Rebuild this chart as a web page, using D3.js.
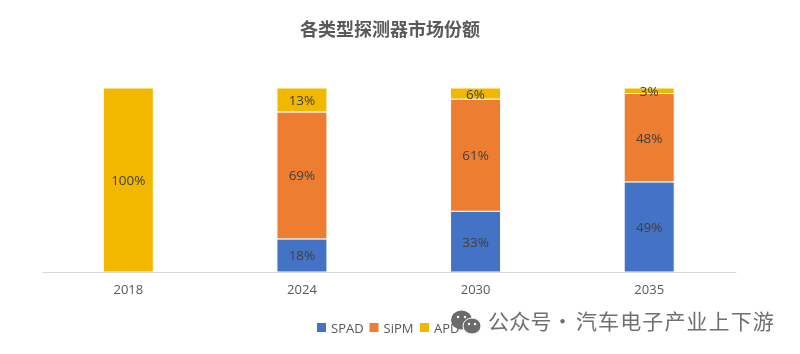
<!DOCTYPE html>
<html lang="zh">

<head>
    <meta charset="UTF-8">
    <style>
        html, body { margin: 0; padding: 0; background: #fff; }
        svg { display: block; filter: blur(0.4px); }
        .tick text { font-family: "Open Sans", "Noto Sans", sans-serif; font-size: 13px; fill: #595959; }
    </style>
    <title>各类型探测器市场份额</title>
    <script src="https://d3js.org/d3.v7.min.js"></script>
</head>

<body>
    <div id="chart"></div>
    <script>
        // values, in percent
        const years = ['2018', '2024', '2030', '2035'];
        const spad = [0, 18, 33, 49];
        const sipm = [0, 69, 61, 48];
        const apd = [100, 13, 6, 3];
        const seriesNames = ['SPAD', 'SiPM', 'APD'];
        const seriesColors = ['#4472C4', '#ED7D31', '#F2B800'];

        const width = 800;
        const height = 354;
        const margin = { top: 88, right: 64, bottom: 82, left: 41.5 };

        const svg = d3.select('#chart')
            .append('svg')
            .attr('width', width)
            .attr('height', height);

        const table = years.map((y, i) => ({ year: y, SPAD: spad[i], SiPM: sipm[i], APD: apd[i] }));
        const stacked = d3.stack().keys(seriesNames)(table);

        const xScale = d3.scaleBand()
            .domain(years)
            .range([margin.left, width - margin.right])
            .paddingInner(0.712)
            .paddingOuter(0.356);

        const yScale = d3.scaleLinear()
            .domain([0, 100])
            .range([height - margin.bottom, margin.top]);

        // title
        svg.append('text')
            .attr('x', 390)
            .attr('y', 36)
            .attr('text-anchor', 'middle')
            .style('font-family', '"Noto Sans CJK SC", serif')
            .style('font-size', '18px')
            .style('font-weight', 700)
            .style('fill', '#595959')
            .text('各类型探测器市场份额');

        // bars
        const groups = svg.selectAll('g.series')
            .data(stacked)
            .enter()
            .append('g')
            .attr('class', 'series')
            .style('fill', (d, i) => seriesColors[i]);

        groups.selectAll('rect')
            .data(d => d.filter(p => p[1] > p[0]))
            .enter()
            .append('rect')
            .attr('x', d => xScale(d.data.year))
            .attr('y', d => yScale(d[1]))
            .attr('width', xScale.bandwidth())
            .attr('height', d => yScale(d[0]) - yScale(d[1]))
            .style('stroke', '#fff')
            .style('stroke-width', 1);

        // value labels
        groups.selectAll('text')
            .data(d => d.filter(p => p[1] > p[0]))
            .enter()
            .append('text')
            .attr('x', d => xScale(d.data.year) + xScale.bandwidth() / 2)
            .attr('y', d => yScale((d[0] + d[1]) / 2) + 5)
            .attr('text-anchor', 'middle')
            .style('font-family', '"Open Sans", "Noto Sans", sans-serif')
            .style('font-size', '13.5px')
            .style('fill', '#404040')
            .text(d => (d[1] - d[0]) + '%');

        // x axis
        const xAxis = d3.axisBottom(xScale).tickSize(0).tickPadding(13);
        const axisG = svg.append('g')
            .attr('transform', `translate(0, ${height - margin.bottom})`)
            .call(xAxis);
        axisG.select('.domain')
            .style('stroke', '#d9d9d9')
            .style('stroke-width', 1);

        // legend
        const legendX = [317, 369.5, 420];
        const legend = svg.selectAll('g.legend')
            .data(seriesNames)
            .enter()
            .append('g')
            .attr('class', 'legend')
            .attr('transform', (d, i) => `translate(${legendX[i]}, 323)`);
        legend.append('rect')
            .attr('width', 9)
            .attr('height', 9)
            .style('fill', (d, i) => seriesColors[i]);
        legend.append('text')
            .attr('x', 14)
            .attr('y', 10)
            .style('font-family', '"Open Sans", "Noto Sans", sans-serif')
            .style('font-size', '13px')
            .style('fill', '#595959')
            .text(d => d);

        // watermark: two chat bubbles and the account name
        const mark = svg.append('g').style('fill', '#6b6b6b');
        mark.append('ellipse').attr('cx', 461.5).attr('cy', 320).attr('rx', 10.5).attr('ry', 9.5);
        mark.append('ellipse').attr('cx', 472).attr('cy', 326).attr('rx', 9).attr('ry', 8).style('stroke', '#fff').style('stroke-width', 1);
        const eyes = [[458, 317], [465, 317], [469, 324], [475, 324]];
        mark.selectAll('circle')
            .data(eyes)
            .enter()
            .append('circle')
            .attr('cx', d => d[0])
            .attr('cy', d => d[1])
            .attr('r', 1.2)
            .style('fill', '#fff');
        const markText = [['公众号', 488, 0.2], ['·', 552, 0], ['汽车电子产业上下游', 576, 1.1]];
        svg.selectAll('text.mark')
            .data(markText)
            .enter()
            .append('text')
            .attr('class', 'mark')
            .attr('x', d => d[1])
            .attr('y', 329)
            .style('font-family', '"Noto Sans CJK SC", sans-serif')
            .style('font-size', '21px')
            .style('letter-spacing', d => d[2] + 'px')
            .style('fill', '#6f6f6f')
            .text(d => d[0]);
    </script>
</body>

</html>
